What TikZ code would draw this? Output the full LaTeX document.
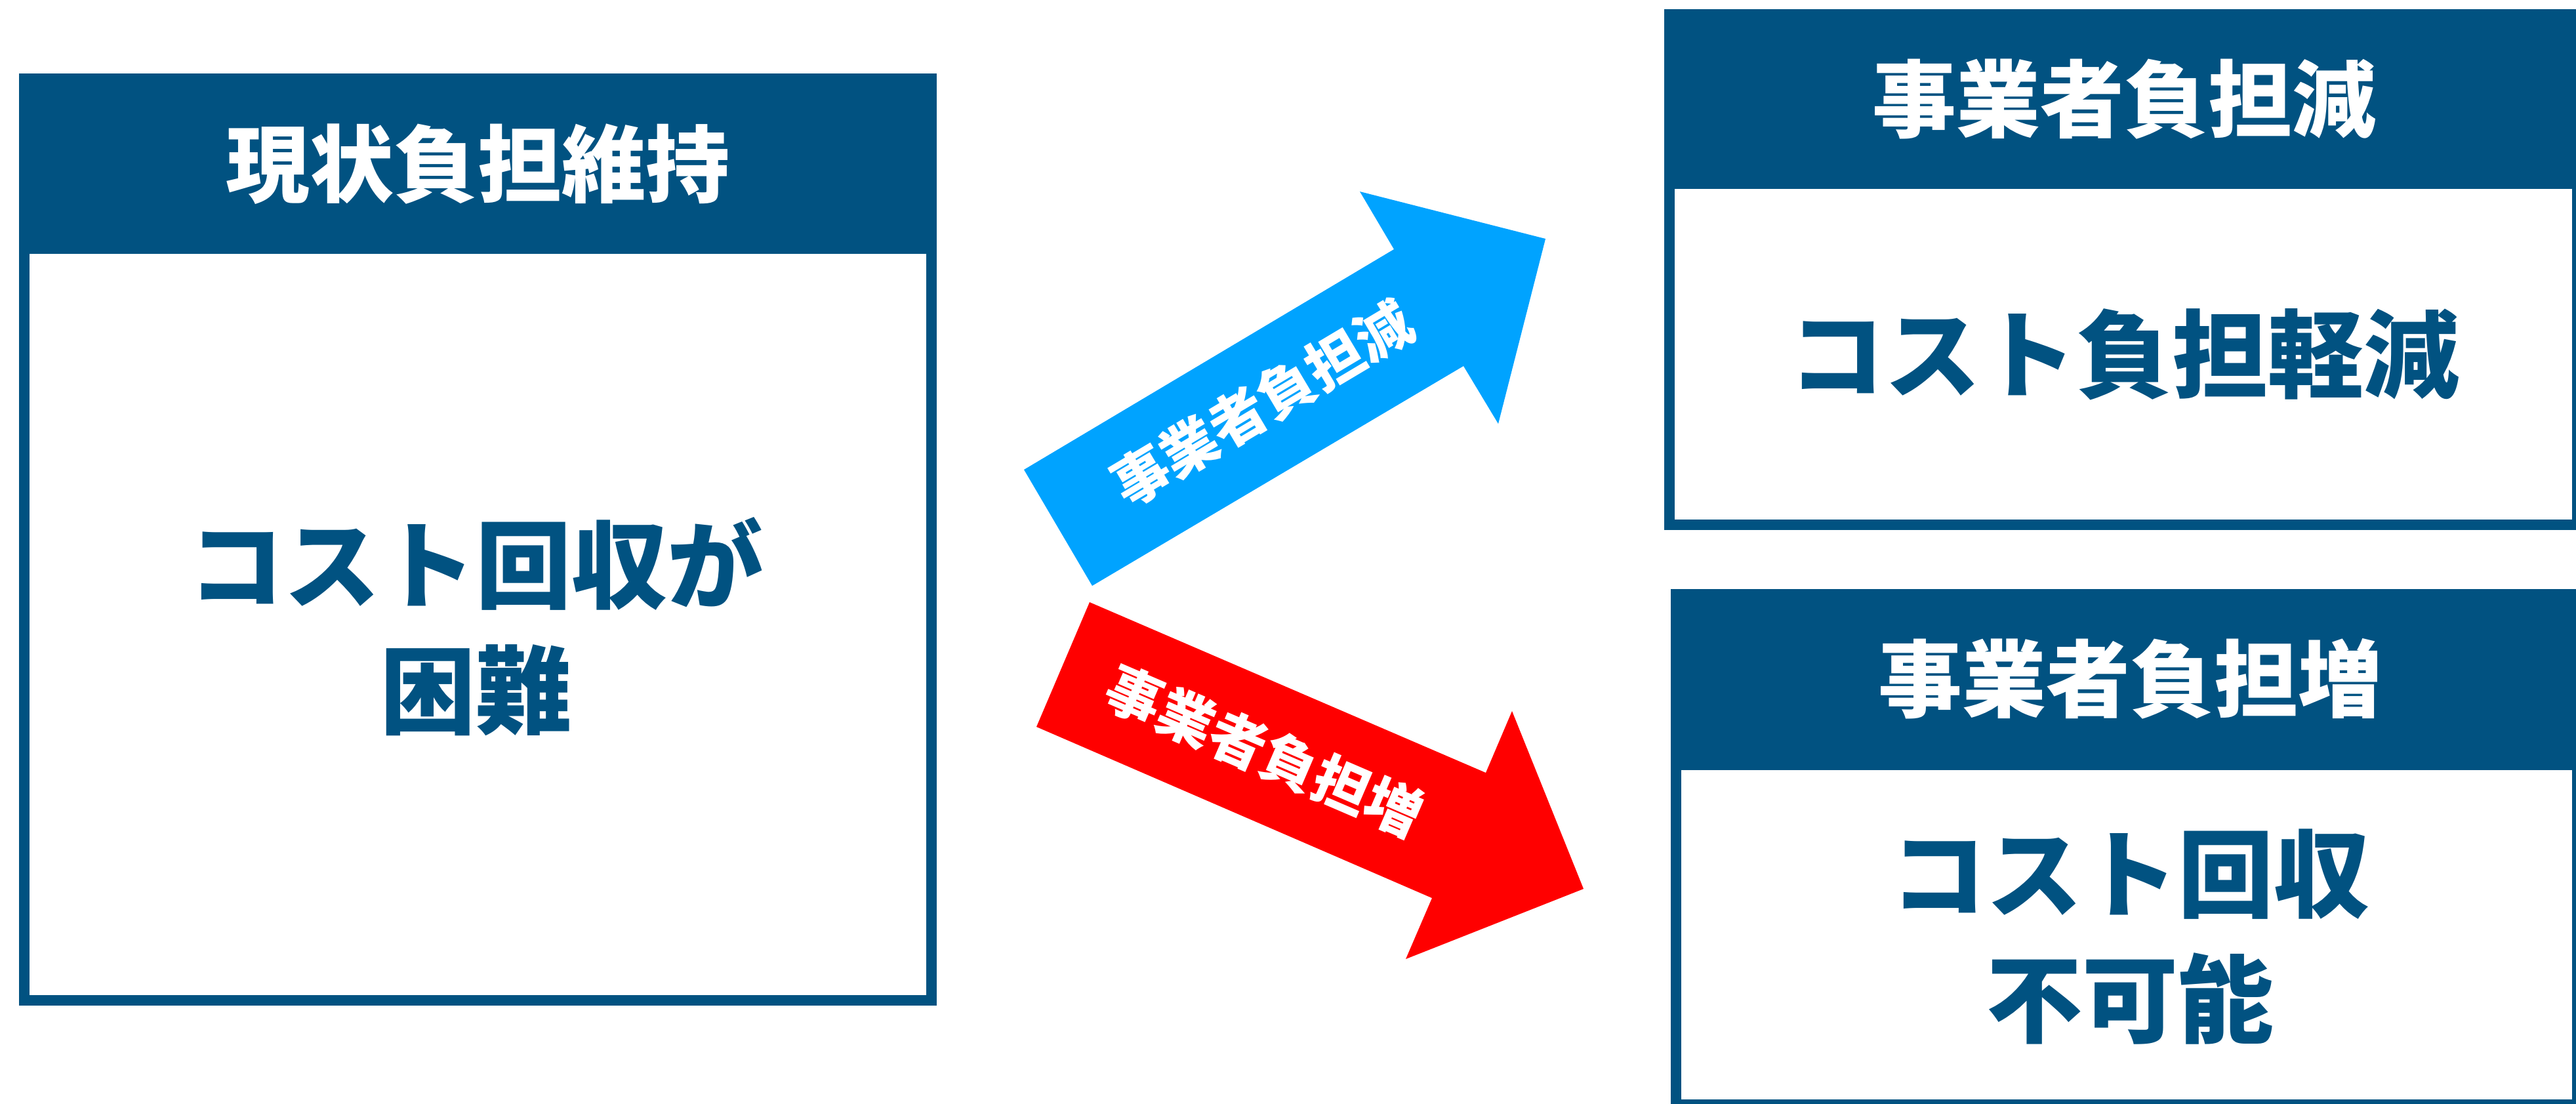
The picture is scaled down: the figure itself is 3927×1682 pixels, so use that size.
\documentclass[tikz,border=0pt]{standalone}
\usepackage{fontspec}
\setmainfont{Noto Sans CJK JP}
\definecolor{hdr}{RGB}{1,82,129}
\definecolor{upblue}{RGB}{0,163,255}
\definecolor{downred}{RGB}{255,0,0}
\tikzset{
  boxframe/.style={draw=hdr, line width=4pt, fill=white},
  headfill/.style={fill=hdr},
  headtext/.style={text=white, font=\bfseries\fontsize{32}{38}\selectfont, inner sep=0pt},
  bodytext/.style={text=hdr, font=\bfseries\fontsize{36.5}{47.75}\selectfont, align=center, inner sep=0pt},
  arrowtext/.style={text=white, font=\bfseries\fontsize{21.5}{26}\selectfont, inner sep=0pt},
}
\begin{document}
\begin{tikzpicture}[x=0.25pt, y=-0.25pt]
\useasboundingbox (0,0) rectangle (3927,1682);
\begin{scope}
\clip (0,0) rectangle (3927,1682);
% left box
\draw[boxframe] (37,120) rectangle (1420,1525);
\fill[headfill] (29,112) rectangle (1428,387);
% top right box
\draw[boxframe] (2545,22) rectangle (3929,800);
\fill[headfill] (2537,14) rectangle (3937,288);
% bottom right box
\draw[boxframe] (2555,906) rectangle (3929,1684);
\fill[headfill] (2547,898) rectangle (3937,1174);
% blue arrow
\fill[upblue] (1561,716) -- (2125,380) -- (2073,292) -- (2356,364) -- (2284,646) -- (2231,558) -- (1665,893) -- cycle;
% red arrow
\fill[downred] (1661,918) -- (2265,1178) -- (2305,1084) -- (2414,1355) -- (2143,1462) -- (2183,1369) -- (1580,1108) -- cycle;
\end{scope}
\node[headtext] (h1) at (728,250) {現状負担維持};
\node[bodytext] (b1) at (725,955) {コスト回収が\\困難};
\node[headtext] (h2) at (3238,151) {事業者負担減};
\node[bodytext] (b2) at (3238,540) {コスト負担軽減};
\node[headtext] (h3) at (3247,1035) {事業者負担増};
\node[bodytext] (b3) at (3247,1428) {コスト回収\\不可能};
\node[arrowtext, rotate=30.8] (a1) at (1924,615) {事業者負担減};
\node[arrowtext, rotate=-23.3] (a2) at (1927,1145) {事業者負担増};
\end{tikzpicture}
\end{document}
